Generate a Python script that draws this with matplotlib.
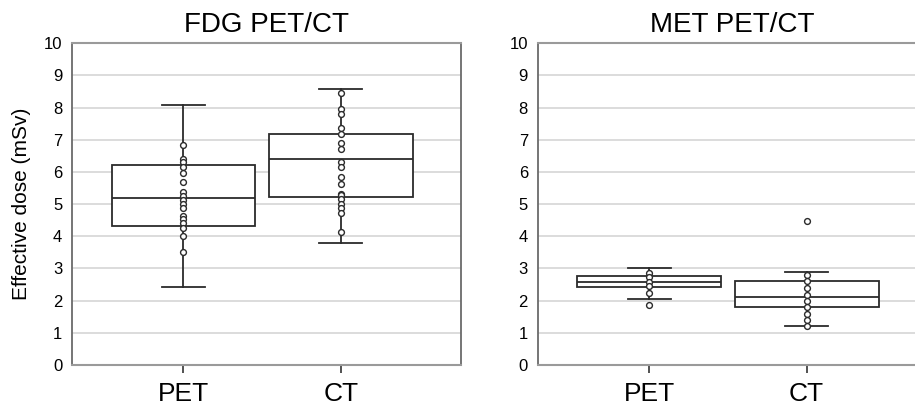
import matplotlib
matplotlib.use("Agg")
import matplotlib.pyplot as plt

plt.rcParams['font.family'] = ['Liberation Sans', 'DejaVu Sans']

categories = ["PET", "CT"]
panel_titles = ["FDG PET/CT", "MET PET/CT"]
y_label = "Effective dose (mSv)"
y_ticks = [0, 1, 2, 3, 4, 5, 6, 7, 8, 9, 10]

# box statistics: whislo, q1, med, q3, whishi
fdg_pet_box = [2.43, 4.32, 5.20, 6.22, 8.08]
fdg_ct_box = [3.79, 5.22, 6.41, 7.18, 8.58]
met_pet_box = [2.04, 2.42, 2.59, 2.78, 3.03]
met_ct_box = [1.21, 1.81, 2.10, 2.61, 2.89]

# individual points
fdg_pet_pts = [6.83, 6.41, 6.30, 6.17, 5.97, 5.70, 5.38, 5.26, 5.13, 5.01,
               4.88, 4.64, 4.53, 4.41, 4.27, 4.00, 3.52]
fdg_ct_pts = [8.47, 7.97, 7.80, 7.38, 7.19, 6.91, 6.72, 6.32, 6.14, 5.83,
              5.64, 5.33, 5.27, 5.15, 5.02, 4.88, 4.73, 4.14]
met_pet_pts = [2.87, 2.72, 2.59, 2.45, 2.23, 1.86]
met_ct_pts = [4.47, 2.80, 2.60, 2.39, 2.19, 2.00, 1.80, 1.60, 1.40, 1.21]

panels = [
    (panel_titles[0], [fdg_pet_box, fdg_ct_box], [fdg_pet_pts, fdg_ct_pts]),
    (panel_titles[1], [met_pet_box, met_ct_box], [met_pet_pts, met_ct_pts]),
]

fig = plt.figure(figsize=(9.15, 4.07), dpi=100)
axes_rects = [
    [72 / 915, 42 / 407, 388.7 / 915, 321.7 / 407],
    [537.7 / 915, 42 / 407, 389 / 915, 321.7 / 407],
]

dark = '#2b2b2b'
all_axes = []
for rect, (title, boxes, pts) in zip(axes_rects, panels):
    ax = fig.add_axes(rect)
    all_axes.append(ax)
    stats = []
    for lab, b in zip(categories, boxes):
        stats.append(dict(label=lab, whislo=b[0], q1=b[1], med=b[2], q3=b[3],
                          whishi=b[4], fliers=[]))
    ax.bxp(stats, positions=[1, 2], widths=0.915, showfliers=False,
           patch_artist=True,
           boxprops=dict(facecolor='white', edgecolor=dark, linewidth=1.3),
           medianprops=dict(color=dark, linewidth=1.3),
           whiskerprops=dict(color=dark, linewidth=1.3),
           capprops=dict(color=dark, linewidth=1.3),
           capwidths=0.27, zorder=2)
    for i, p in enumerate(pts):
        ax.plot([i + 1] * len(p), p, linestyle='none', marker='o',
                markersize=4.2, markerfacecolor='white',
                markeredgecolor=dark, markeredgewidth=1.0, zorder=3)
    ax.set_xlim(0.291, 2.763)
    ax.set_ylim(0, 10)
    ax.set_yticks(y_ticks)
    ax.set_yticklabels([str(t) for t in y_ticks], fontsize=12)
    ax.set_xticks([1, 2])
    ax.set_xticklabels(categories, fontsize=19)
    ax.tick_params(axis='y', length=0, pad=7)
    ax.tick_params(axis='x', length=6, width=1.2, color='#333333', pad=6)
    ax.set_axisbelow(True)
    ax.yaxis.grid(True, color='#d9d9d9', linewidth=1.3)
    ax.xaxis.grid(False)
    ax.set_title(title, fontsize=20, pad=8)
    for s in ['top', 'bottom']:
        ax.spines[s].set_color('#9a9a9a')
        ax.spines[s].set_linewidth(1.5)
    for s in ['left', 'right']:
        ax.spines[s].set_color('#6a6a6a')
        ax.spines[s].set_linewidth(1.3)

all_axes[1].spines['right'].set_visible(False)
all_axes[0].set_ylabel(y_label, fontsize=15, labelpad=9)

fig.savefig("out.png", dpi=100)
